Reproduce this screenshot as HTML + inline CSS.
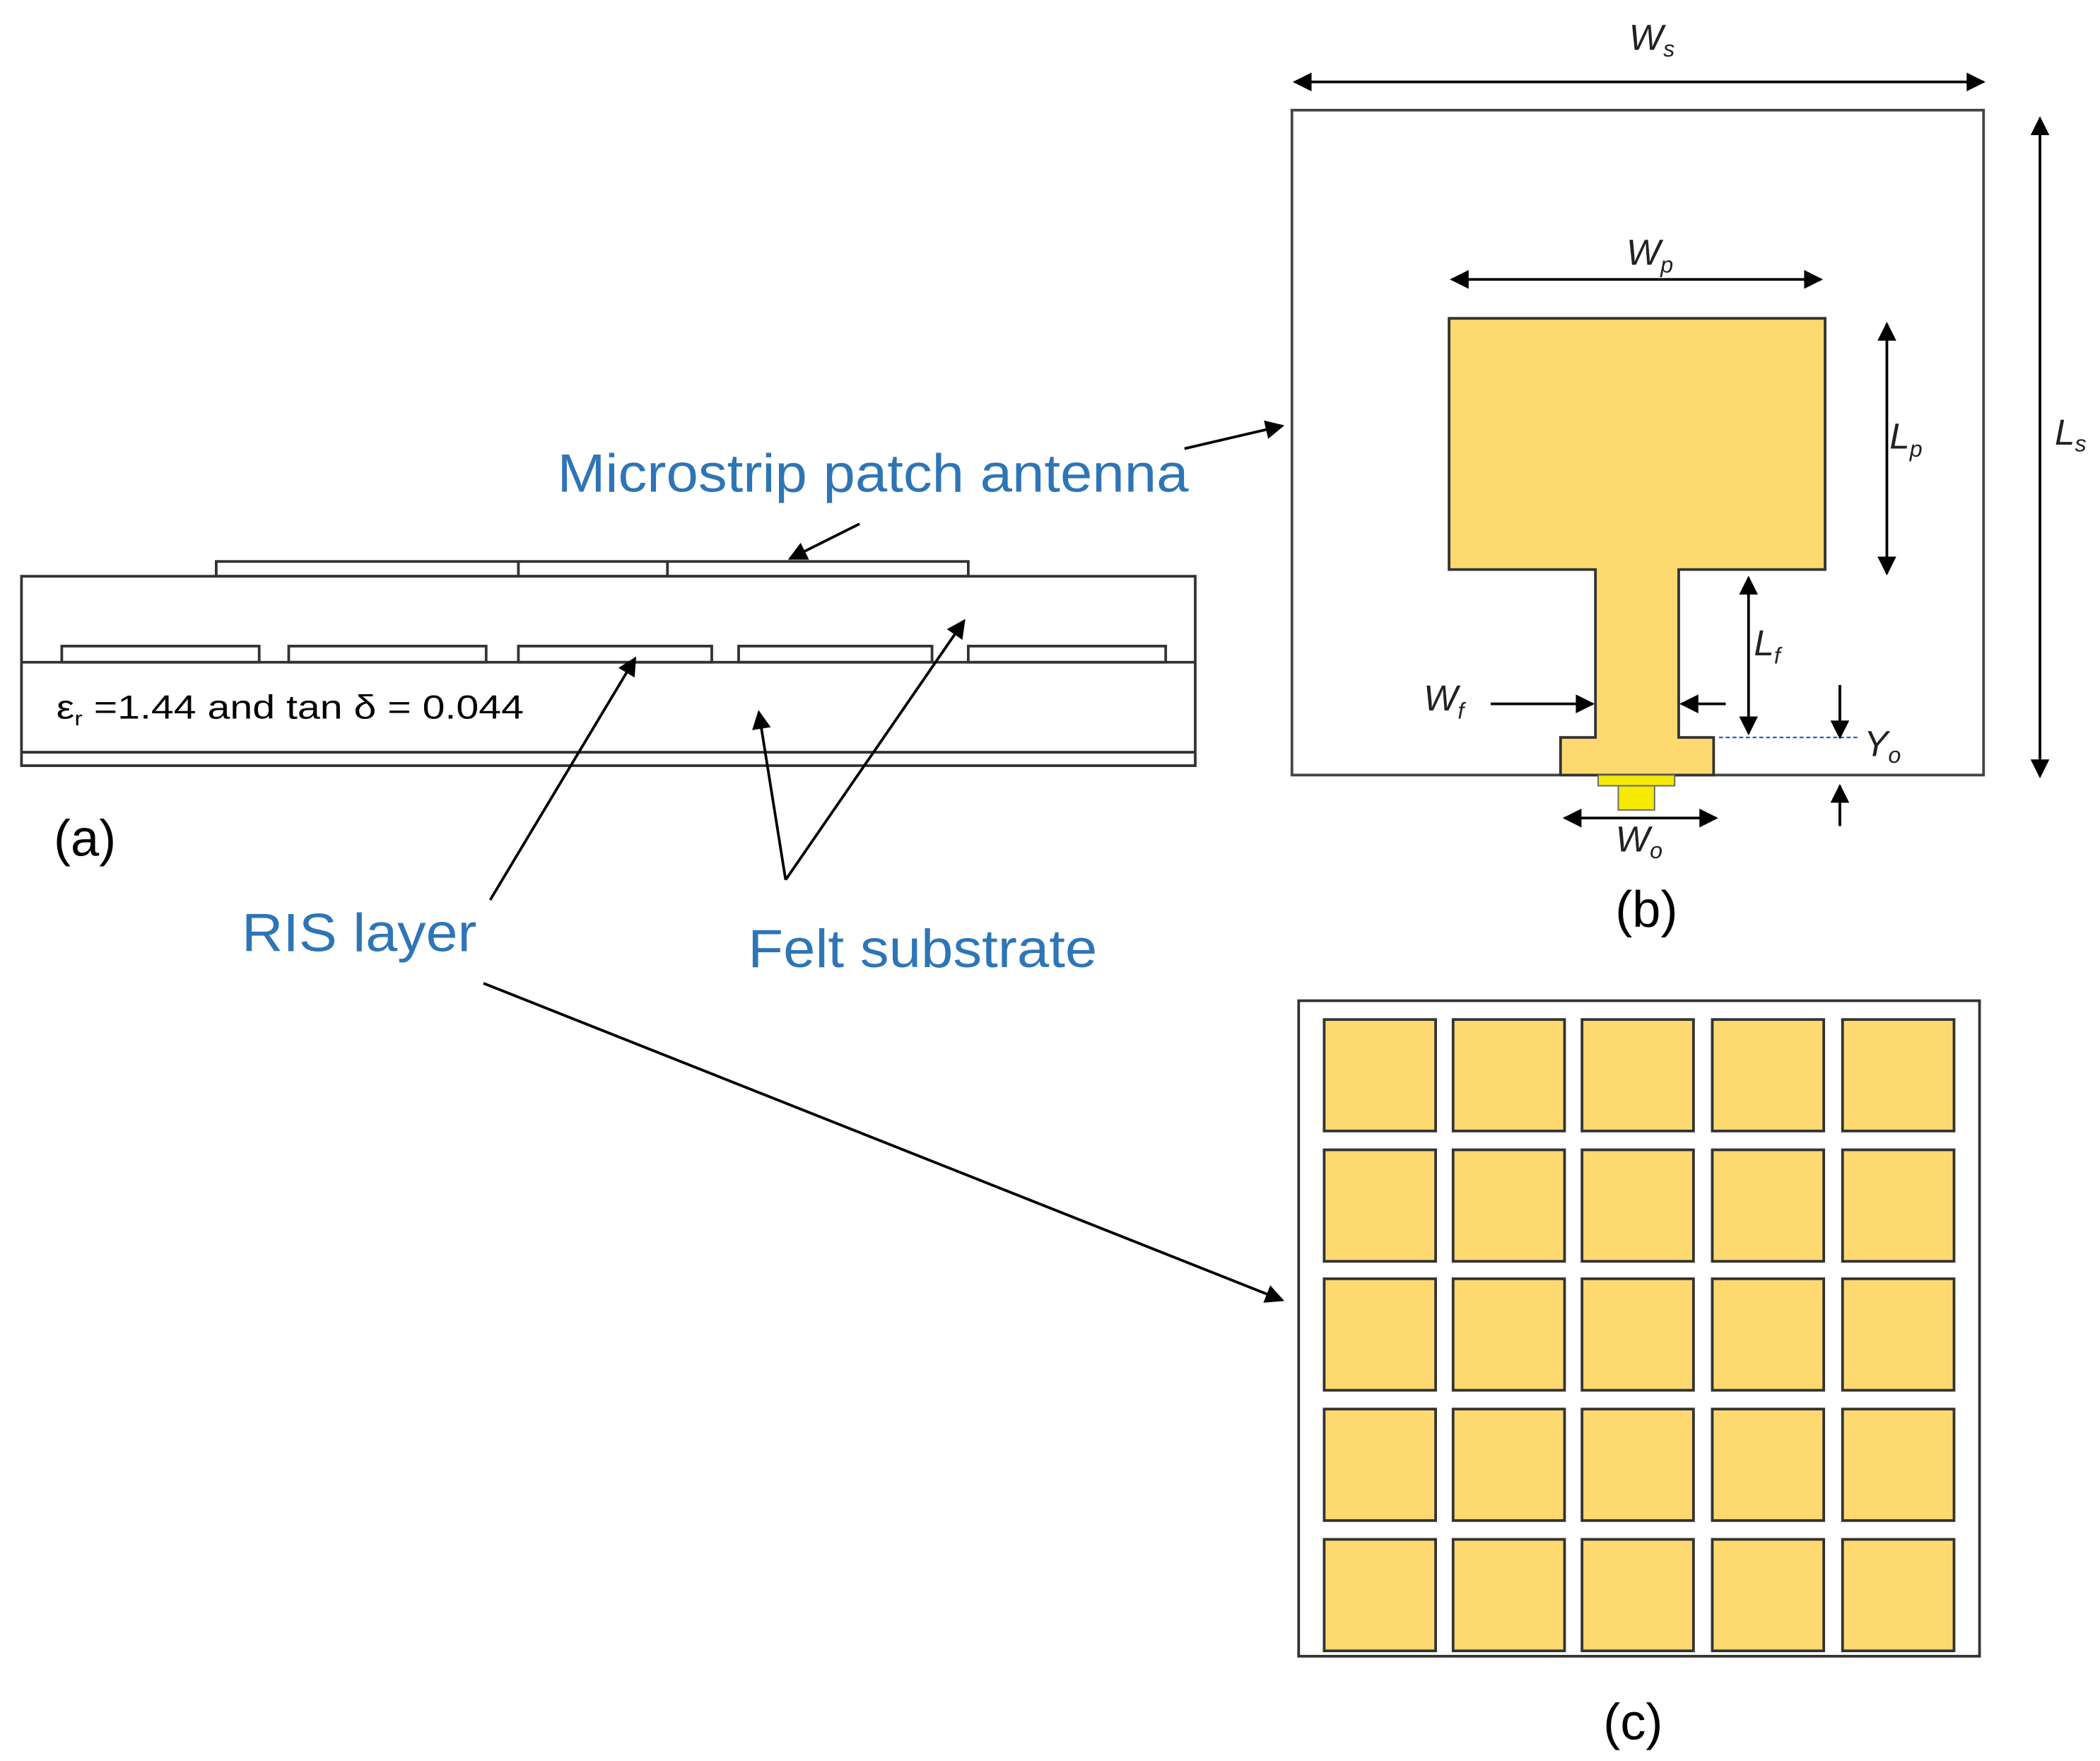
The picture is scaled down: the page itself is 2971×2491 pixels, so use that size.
<!DOCTYPE html>
<html><head><meta charset="utf-8"><style>
html,body{margin:0;padding:0;background:#fff;}
svg{display:block;}
text{font-family:"Liberation Sans",sans-serif;}
</style></head><body>
<svg width="2971" height="2491" viewBox="0 0 1563.7 1311" preserveAspectRatio="none" xmlns="http://www.w3.org/2000/svg">
<defs>
<marker id="ab" viewBox="0 0 10 10" refX="9" refY="5" markerWidth="16" markerHeight="14" orient="auto-start-reverse" markerUnits="userSpaceOnUse"><path d="M0,0 L10,5 L0,10 z" fill="#000"/></marker>
</defs>
<g fill="none" stroke="#333" stroke-width="2">
<rect x="16" y="429" width="874" height="141"/>
<line x1="16" y1="493" x2="890" y2="493"/>
<line x1="16" y1="560" x2="890" y2="560"/>
<rect x="161" y="418" width="560" height="11"/>
<line x1="386" y1="418" x2="386" y2="429"/>
<line x1="497" y1="418" x2="497" y2="429"/>
<rect x="46" y="481" width="147" height="12"/>
<rect x="215" y="481" width="147" height="12"/>
<rect x="386" y="481" width="144" height="12"/>
<rect x="550" y="481" width="144" height="12"/>
<rect x="721" y="481" width="147" height="12"/>
</g>
<text x="42" y="535" font-size="25" textLength="348" lengthAdjust="spacingAndGlyphs">ε<tspan font-size="15" dy="5">r</tspan><tspan dy="-5"> =1.44  and tan δ = 0.044</tspan></text>
<text x="40" y="637" font-size="38">(a)</text>
<g fill="#2e75b6" font-size="40">
<text x="415" y="366" textLength="470" lengthAdjust="spacingAndGlyphs">Microstrip patch  antenna</text>
<text x="180" y="708" textLength="175" lengthAdjust="spacingAndGlyphs">RIS layer</text>
<text x="557" y="720" textLength="260" lengthAdjust="spacingAndGlyphs">Felt substrate</text>
</g>
<g stroke="#000" stroke-width="2" fill="none">
<line x1="640" y1="390" x2="588" y2="416" marker-end="url(#ab)"/>
<line x1="882" y1="334" x2="955" y2="317" marker-end="url(#ab)"/>
<line x1="365" y1="670" x2="473" y2="490" marker-end="url(#ab)"/>
<line x1="360" y1="732" x2="955" y2="968" marker-end="url(#ab)"/>
<line x1="585" y1="655" x2="565" y2="530" marker-end="url(#ab)"/>
<line x1="585" y1="655" x2="718" y2="462" marker-end="url(#ab)"/>
</g>
<!-- (b) -->
<rect x="962" y="82" width="515" height="495" fill="#fff" stroke="#444" stroke-width="2"/>
<path d="M1079,237 H1359 V424 H1250 V549 H1276 V577 H1162 V549 H1188 V424 H1079 Z" fill="#fdd96f" stroke="#333" stroke-width="2"/>
<rect x="1190" y="577" width="57" height="8" fill="#f5ea00" stroke="#666" stroke-width="1"/>
<rect x="1205" y="585" width="27" height="18" fill="#f5ea00" stroke="#666" stroke-width="1"/>
<line x1="1280" y1="549" x2="1385" y2="549" stroke="#2e5fd0" stroke-width="1.2" stroke-dasharray="3,2"/>
<g stroke="#000" stroke-width="2">
<line x1="964" y1="61" x2="1477" y2="61" marker-start="url(#ab)" marker-end="url(#ab)"/>
<line x1="1081" y1="208" x2="1356" y2="208" marker-start="url(#ab)" marker-end="url(#ab)"/>
<line x1="1405" y1="241" x2="1405" y2="427" marker-start="url(#ab)" marker-end="url(#ab)"/>
<line x1="1302" y1="430" x2="1302" y2="546" marker-start="url(#ab)" marker-end="url(#ab)"/>
<line x1="1519" y1="88" x2="1519" y2="578" marker-start="url(#ab)" marker-end="url(#ab)"/>
<line x1="1110" y1="524" x2="1186" y2="524" marker-end="url(#ab)"/>
<line x1="1285" y1="524" x2="1252" y2="524" marker-end="url(#ab)"/>
<line x1="1370" y1="510" x2="1370" y2="549" marker-end="url(#ab)"/>
<line x1="1370" y1="615" x2="1370" y2="585" marker-end="url(#ab)"/>
<line x1="1165" y1="609" x2="1278" y2="609" marker-start="url(#ab)" marker-end="url(#ab)"/>
</g>
<g font-size="27" font-style="italic" fill="#222">
<text x="1213" y="37">W<tspan font-size="17" dy="5">s</tspan></text>
<text x="1211" y="197">W<tspan font-size="17" dy="6">p</tspan></text>
<text x="1407" y="334">L<tspan font-size="17" dy="6">p</tspan></text>
<text x="1530" y="331">L<tspan font-size="17" dy="5">s</tspan></text>
<text x="1306" y="488">L<tspan font-size="17" dy="6">f</tspan></text>
<text x="1060" y="529">W<tspan font-size="17" dy="6">f</tspan></text>
<text x="1388" y="563">Y<tspan font-size="17" dy="5">o</tspan></text>
<text x="1203" y="634">W<tspan font-size="17" dy="5">o</tspan></text>
</g>
<text x="1226" y="690" font-size="38" text-anchor="middle">(b)</text>
<!-- (c) -->
<rect x="967" y="745" width="507" height="488" fill="#fff" stroke="#333" stroke-width="2"/>
<g fill="#fdd96f" stroke="#333" stroke-width="2">
<rect x="986" y="759" width="83" height="83"/><rect x="1082" y="759" width="83" height="83"/><rect x="1178" y="759" width="83" height="83"/><rect x="1275" y="759" width="83" height="83"/><rect x="1372" y="759" width="83" height="83"/>
<rect x="986" y="856" width="83" height="83"/><rect x="1082" y="856" width="83" height="83"/><rect x="1178" y="856" width="83" height="83"/><rect x="1275" y="856" width="83" height="83"/><rect x="1372" y="856" width="83" height="83"/>
<rect x="986" y="952" width="83" height="83"/><rect x="1082" y="952" width="83" height="83"/><rect x="1178" y="952" width="83" height="83"/><rect x="1275" y="952" width="83" height="83"/><rect x="1372" y="952" width="83" height="83"/>
<rect x="986" y="1049" width="83" height="83"/><rect x="1082" y="1049" width="83" height="83"/><rect x="1178" y="1049" width="83" height="83"/><rect x="1275" y="1049" width="83" height="83"/><rect x="1372" y="1049" width="83" height="83"/>
<rect x="986" y="1146" width="83" height="83"/><rect x="1082" y="1146" width="83" height="83"/><rect x="1178" y="1146" width="83" height="83"/><rect x="1275" y="1146" width="83" height="83"/><rect x="1372" y="1146" width="83" height="83"/>
</g>
<text x="1216" y="1295" font-size="38" text-anchor="middle">(c)</text>
</svg>
</body></html>
